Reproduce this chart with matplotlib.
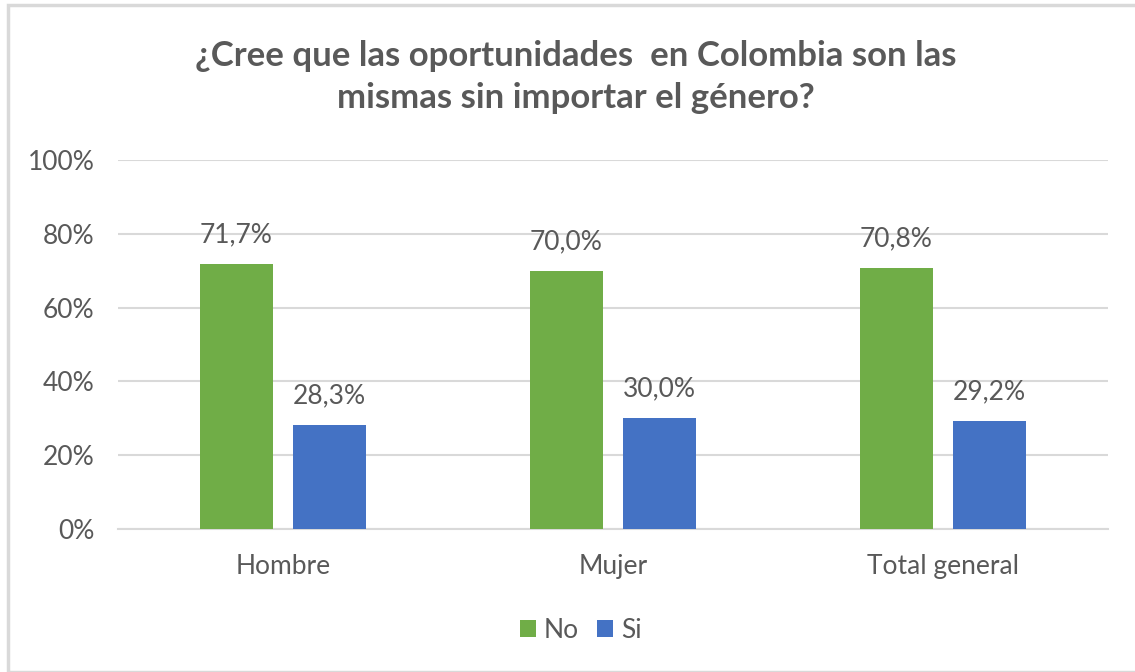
import matplotlib
matplotlib.use("Agg")
import matplotlib.pyplot as plt
import numpy as np
from matplotlib.patches import Rectangle

categories = ["Hombre", "Mujer", "Total general"]
series_names = ["No", "Si"]
no_values = [71.7, 70.0, 70.8]
si_values = [28.3, 30.0, 29.2]
yticks = [0, 20, 40, 60, 80, 100]

W, H = 1135, 672
fig = plt.figure(figsize=(W / 100, H / 100), dpi=100)
plt.rcParams['font.family'] = ['Lato', 'DejaVu Sans']
txt = '#595959'

# outer border
fig.patches.append(Rectangle((8 / W, 0), 1.2, 1 - 5 / H, transform=fig.transFigure,
                             fill=False, edgecolor='#d9d9d9', linewidth=2.5, zorder=0))

ax = fig.add_axes([118 / W, 1 - 529 / H, (1108 - 118) / W, (529 - 160) / H])
x = np.arange(len(categories))
bw = 0.222
gap = 0.061
off = (bw + gap) / 2
b1 = ax.bar(x - off, no_values, bw, color='#70ad47', label=series_names[0], zorder=3)
b2 = ax.bar(x + off, si_values, bw, color='#4472c4', label=series_names[1], zorder=3)

for bars, vals in ((b1, no_values), (b2, si_values)):
    for r, v in zip(bars, vals):
        ax.annotate(f"{v:.1f}%".replace('.', ','), (r.get_x() + r.get_width() / 2, v),
                    xytext=(0, 12), textcoords='offset points', ha='center', va='bottom',
                    fontsize=19, color=txt)

ax.set_xlim(-0.5, 2.5)
ax.set_ylim(0, 100)
ax.set_yticks(yticks)
ax.set_yticklabels([f"{t}%" for t in yticks])
ax.set_xticks(x)
ax.set_xticklabels(categories)
ax.yaxis.grid(True, color='#d9d9d9', linewidth=1.5, zorder=0)
ax.set_axisbelow(True)
for s in ['top', 'right', 'left']:
    ax.spines[s].set_visible(False)
ax.spines['bottom'].set_color('#d9d9d9')
ax.spines['bottom'].set_linewidth(1.5)
ax.tick_params(axis='both', length=0, labelsize=19, labelcolor=txt)
ax.tick_params(axis='y', pad=17)
ax.tick_params(axis='x', pad=18)

fig.text(576 / W, 1 - 77 / H, "¿Cree que las oportunidades  en Colombia son las\nmismas sin importar el género?",
         ha='center', va='center', fontsize=25, fontweight='bold', color=txt, linespacing=1.35)

fig.legend(handles=[b1, b2], labels=series_names, loc='center', bbox_to_anchor=(581 / W, 1 - 630 / H),
           ncol=2, frameon=False, fontsize=19, labelcolor=txt, handlelength=0.6, handleheight=0.6,
           columnspacing=0.7, handletextpad=0.3)

fig.savefig("out.png", dpi=100)
